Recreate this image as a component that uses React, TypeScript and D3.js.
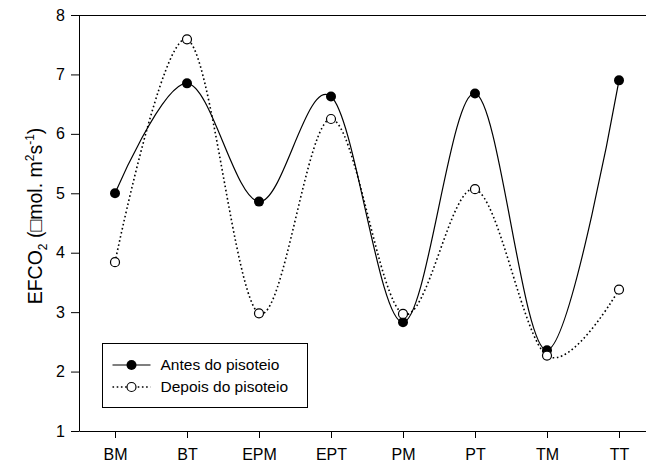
import React, { useRef, useEffect } from 'react';
import * as d3 from 'd3';

// Sampling sites and soil CO2 efflux, before / after trampling
const categories = ['BM', 'BT', 'EPM', 'EPT', 'PM', 'PT', 'TM', 'TT'];
const antes = [5.0, 6.85, 4.86, 6.63, 2.83, 6.68, 2.36, 6.9];
const depois = [3.84, 7.59, 2.98, 6.25, 2.97, 5.07, 2.27, 3.38];
const yTicks = [1, 2, 3, 4, 5, 6, 7, 8];
const legendLabels = ['Antes do pisoteio', 'Depois do pisoteio'];

const W = 646;
const H = 463;
const font = '"Liberation Sans", Arial, sans-serif';

const App = () => {
  const svgRef = useRef<SVGSVGElement>(null);

  useEffect(() => {
    const svg = d3.select(svgRef.current);
    svg.selectAll('*').remove();

    const left = 79;
    const right = 655; // frame runs past the picture edge
    const top = 15;
    const bottom = 431;

    const x = d3.scalePoint<string>().domain(categories).range([left, right]).padding(0.5);
    const y = d3.scaleLinear().domain([1, 8]).range([bottom, top]);

    // top frame line
    svg
      .append('line')
      .attr('x1', left)
      .attr('x2', right)
      .attr('y1', top + 0.5)
      .attr('y2', top + 0.5)
      .attr('stroke', '#000')
      .attr('stroke-width', 1);

    // axes
    const yAxis = svg
      .append('g')
      .attr('transform', `translate(${left},0)`)
      .call(
        d3
          .axisLeft(y)
          .tickValues(yTicks)
          .tickFormat(d3.format('d'))
          .tickSize(8)
          .tickSizeOuter(0)
          .tickPadding(6)
      );
    yAxis.selectAll('text').style('font-family', font).style('font-size', '16px').attr('fill', '#000');
    yAxis.selectAll('line, path').attr('stroke', '#000');

    const xAxis = svg
      .append('g')
      .attr('transform', `translate(0,${bottom})`)
      .call(d3.axisBottom(x).tickSize(7).tickSizeOuter(0).tickPadding(11));
    xAxis.selectAll('text').style('font-family', font).style('font-size', '16px').attr('fill', '#000');
    xAxis.selectAll('line, path').attr('stroke', '#000');

    // y label
    const lbl = svg
      .append('text')
      .attr('transform', `translate(42,216) rotate(-90)`)
      .attr('text-anchor', 'middle')
      .style('font-family', font)
      .style('font-size', '19.5px')
      .attr('fill', '#000');
    lbl.append('tspan').text('EFCO');
    lbl.append('tspan').attr('dy', 5).style('font-size', '12px').text('2');
    lbl.append('tspan').attr('dy', -5).text(' (\u25A1mol. m');
    lbl.append('tspan').attr('dy', -8).style('font-size', '12px').text('2');
    lbl.append('tspan').attr('dy', 8).text('s');
    lbl.append('tspan').attr('dy', -8).style('font-size', '12px').text('-1');
    lbl.append('tspan').attr('dy', 8).text(')');

    const line = d3
      .line<number>()
      .x((_, i) => x(categories[i]) as number)
      .y((d) => y(d))
      .curve(d3.curveCardinal.tension(0));

    svg
      .append('path')
      .datum(antes)
      .attr('d', line)
      .attr('fill', 'none')
      .attr('stroke', '#000')
      .attr('stroke-width', 1.2);

    svg
      .append('path')
      .datum(depois)
      .attr('d', line)
      .attr('fill', 'none')
      .attr('stroke', '#000')
      .attr('stroke-width', 1.6)
      .attr('stroke-dasharray', '1.6,2.6');

    svg
      .append('g')
      .selectAll('circle')
      .data(antes)
      .enter()
      .append('circle')
      .attr('cx', (_, i) => x(categories[i]) as number)
      .attr('cy', (d) => y(d))
      .attr('r', 5)
      .attr('fill', '#000');

    svg
      .append('g')
      .selectAll('circle')
      .data(depois)
      .enter()
      .append('circle')
      .attr('cx', (_, i) => x(categories[i]) as number)
      .attr('cy', (d) => y(d))
      .attr('r', 4.5)
      .attr('fill', '#fff')
      .attr('stroke', '#000')
      .attr('stroke-width', 1.2);

    // legend
    const lg = svg.append('g').attr('transform', 'translate(102.5,343.5)');
    lg.append('rect')
      .attr('width', 205)
      .attr('height', 64)
      .attr('fill', '#fff')
      .attr('stroke', '#000')
      .attr('stroke-width', 1);

    legendLabels.forEach((name, i) => {
      const cy = 21.5 + i * 22;
      lg.append('line')
        .attr('x1', 10)
        .attr('x2', 48)
        .attr('y1', cy)
        .attr('y2', cy)
        .attr('stroke', '#000')
        .attr('stroke-width', i === 0 ? 1.2 : 1.6)
        .attr('stroke-dasharray', i === 0 ? null : '1.6,2.6');
      lg.append('circle')
        .attr('cx', 29)
        .attr('cy', cy)
        .attr('r', i === 0 ? 5 : 4.5)
        .attr('fill', i === 0 ? '#000' : '#fff')
        .attr('stroke', '#000')
        .attr('stroke-width', i === 0 ? 0 : 1.2);
      lg.append('text')
        .attr('x', 58)
        .attr('y', cy)
        .attr('dy', '0.35em')
        .style('font-family', font)
        .style('font-size', '15.5px')
        .attr('fill', '#000')
        .text(name);
    });
  }, []);

  return (
    <svg
      ref={svgRef}
      width={W}
      height={H}
      style={{ position: 'absolute', left: 0, top: 0, background: '#fff', display: 'block' }}
    />
  );
};

export default App;
